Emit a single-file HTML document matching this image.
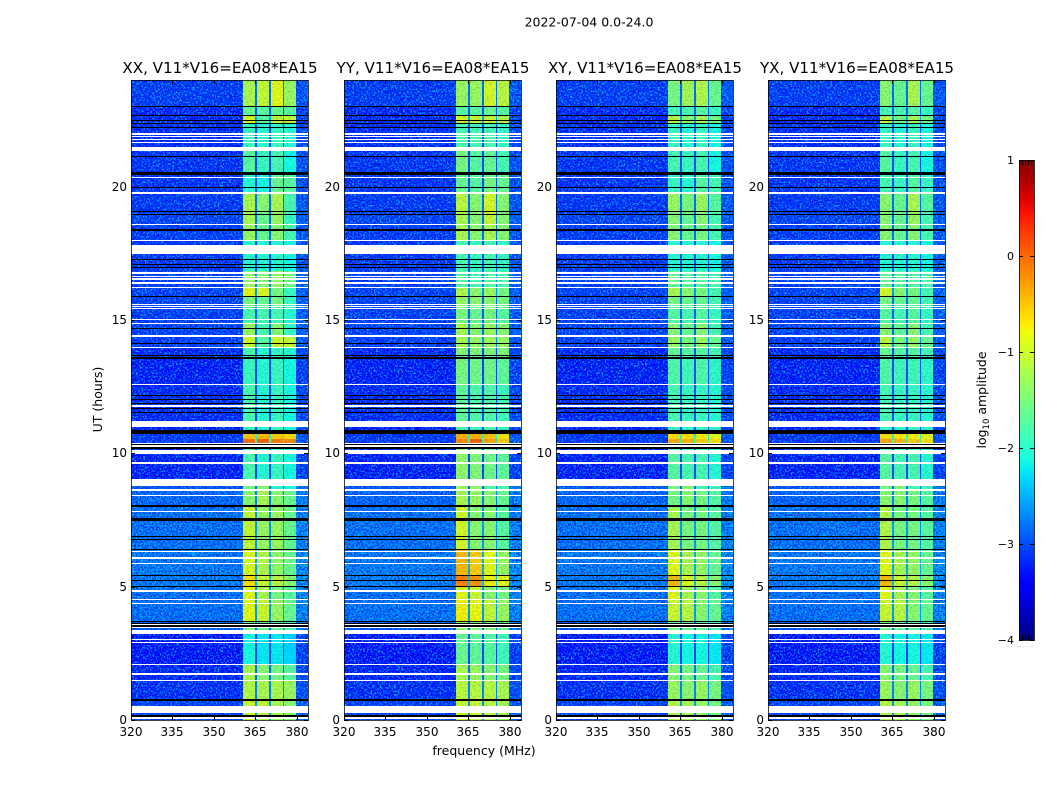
<!DOCTYPE html>
<html lang="en">
<head>
<meta charset="utf-8">
<title>2022-07-04 0.0-24.0</title>
<style>
html,body{margin:0;padding:0;background:#fff;width:1050px;height:800px;overflow:hidden}
svg{display:block}
text{font-family:"DejaVu Sans","Liberation Sans",sans-serif;fill:#000}
</style>
</head>
<body>
<svg id="chart" xmlns="http://www.w3.org/2000/svg" width="1050" height="800" viewBox="0 0 1050 800" shape-rendering="crispEdges">
  <defs>
    <filter id="speckle-light" x="0" y="0" width="100%" height="100%" color-interpolation-filters="sRGB">
      <feTurbulence type="fractalNoise" baseFrequency="0.55" numOctaves="2" seed="7"/>
      <feColorMatrix type="matrix" values="0 0 0 0 0.05  0 0 0 0 0.78  0 0 0 0 1  9 0 0 0 -4.6"/>
    </filter>
    <filter id="speckle-dark" x="0" y="0" width="100%" height="100%" color-interpolation-filters="sRGB">
      <feTurbulence type="fractalNoise" baseFrequency="0.55" numOctaves="2" seed="19"/>
      <feColorMatrix type="matrix" values="0 0 0 0 0  0 0 0 0 0.05  0 0 0 0 0.8  0 9 0 0 -4.4"/>
    </filter>
    <linearGradient id="jet-gradient" x1="0" y1="1" x2="0" y2="0"></linearGradient>
  </defs>
  <text x="589" y="26.5" font-size="12.5" text-anchor="middle">2022-07-04 0.0-24.0</text>
  <g id="panels"></g>
  <text transform="translate(102,399.5) rotate(-90)" font-size="12.5" text-anchor="middle">UT (hours)</text>
  <text x="484" y="755" font-size="12.5" text-anchor="middle">frequency (MHz)</text>
  <g id="colorbar"></g>
  <text transform="translate(986,400) rotate(-90)" font-size="12.5" text-anchor="middle">log<tspan font-size="8.5" dy="3">10</tspan><tspan dy="-3"> amplitude</tspan></text>
</svg>
<script>
// ---- data (hours, MHz, log10 amplitude) ----
const panelTitles = ["XX, V11*V16=EA08*EA15", "YY, V11*V16=EA08*EA15", "XY, V11*V16=EA08*EA15", "YX, V11*V16=EA08*EA15"];
const xTickLabels = [320, 335, 350, 365, 380];
const yTickLabels = [0, 5, 10, 15, 20];
const colorbarTicks = [-4, -3, -2, -1, 0, 1];
const freqEdges = [320, 360.5, 365, 365.7, 370, 370.5, 374.8, 375.4, 379.8, 384];
const rowEdges = [24, 23, 22.66, 22.38, 21.4, 20.48, 19.8, 19, 18.57, 17.97, 16.85, 16.21, 15.88, 15.5, 14.9, 14.38, 14, 13.6, 12.57, 11.1, 10.74, 10.55, 10.3, 9, 8.63, 8.02, 6.4, 5.41, 5, 4.5, 3.7, 3.3, 2.1, 1.5, 0.75, 0];
const bgLevels = [-3.12, -3.25, -3.25, -3.22, -3.18, -3.18, -3.15, -3.08, -3.12, -3.15, -3.1, -3.08, -3.08, -3.1, -3.08, -3.12, -3.25, -3.3, -3.25, -3.3, -3.15, -3.15, -3.3, -2.95, -2.85, -2.78, -2.72, -2.72, -2.78, -2.78, -2.95, -3.35, -3.28, -3.22, -3.1];
const rightLevels = [-2.95, -3.1, -3.1, -3.05, -3, -3, -2.95, -2.9, -2.95, -2.95, -2.9, -2.9, -2.9, -2.9, -2.9, -2.95, -3.05, -3.1, -3.05, -3.1, -2.95, -2.95, -3.1, -2.75, -2.7, -2.65, -2.6, -2.6, -2.65, -2.65, -2.75, -3.1, -3.05, -3, -2.9];
const gapLevels = [-2.8, -2.9, -2.5, -3, -3, -3, -2.8, -2.8, -2.8, -3, -2.7, -2.6, -2.8, -2.9, -2.8, -2.6, -3, -3, -3, -3, -2, -1.8, -3, -2.8, -2.7, -2.6, -2.5, -2.4, -2.6, -2.6, -2.8, -3, -2.8, -2.7, -2.6];
const bandsXX = [
  [-1.2,-1.05,-0.85,-1.3],[-1.6,-1.7,-1.6,-1.7],[-0.95,-1.7,-1.05,-1.05],[-1.9,-2,-1.9,-2],[-1.7,-1.9,-1.8,-2.1],
  [-2,-2.1,-1.6,-1.7],[-1.2,-1.4,-1.2,-1.8],[-1.2,-1.6,-1.3,-1.9],[-1.3,-1.6,-1.4,-1.8],[-2,-2,-2,-2.1],
  [-1.3,-1.4,-1.3,-1.6],[-0.85,-0.9,-1.5,-1.9],[-1.5,-1.6,-1.5,-1.9],[-1.8,-1.8,-1.8,-2],[-1.3,-1.8,-1.4,-1.9],
  [-1,-1.7,-1,-1.05],[-1.8,-2,-1.9,-2],[-1.9,-2,-1.9,-2.1],[-1.8,-2,-1.9,-2.1],[-1.9,-2,-1.9,-2.1],
  [-0.5,-0.45,-0.55,-0.65],[-0.05,0,-0.15,-0.2],[-1.8,-2,-1.9,-2.1],[-1.5,-1.4,-2,-2.1],[-1.4,-1.2,-1.4,-1.6],
  [-1.05,-1.3,-1.3,-1.6],[-0.9,-1.15,-1.35,-1.6],[-0.65,-1,-1.1,-1.4],[-0.85,-1.2,-1.5,-1.7],[-0.85,-1,-1.3,-1.6],
  [-1.5,-1.6,-1.6,-1.8],[-2.1,-2.2,-2.2,-2.3],[-1.2,-1.4,-1.5,-1.7],[-1.15,-1.2,-1.2,-1.3],[-1,-1.05,-1.2,-1.4]
];
const bandsYY = [
  [-1.3,-1.3,-0.95,-1.1],[-1.7,-1.7,-1.6,-1.7],[-0.95,-1,-1,-1.15],[-1.8,-1.8,-1.8,-1.9],[-1.5,-1.7,-1.6,-1.8],
  [-1.6,-1.7,-1.5,-1.6],[-1.1,-1.4,-0.95,-1.4],[-1.2,-1.4,-1.05,-1.4],[-1.2,-1.4,-1.2,-1.4],[-1.8,-1.9,-1.8,-1.9],
  [-1.7,-1.8,-1.7,-1.8],[-1.15,-1.4,-1.3,-1.5],[-1.3,-1.4,-1.4,-1.5],[-1.5,-1.6,-1.5,-1.7],[-1.2,-1.4,-1.3,-1.4],
  [-1.2,-1.3,-1.25,-1.3],[-1.4,-1.45,-1.45,-1.45],[-1.5,-1.55,-1.55,-1.65],[-1.65,-1.75,-1.75,-1.85],[-1.8,-1.9,-1.8,-1.9],
  [-0.4,-0.4,-0.5,-0.7],[-0.2,0,-0.35,-0.55],[-1.35,-1.45,-1.55,-1.65],[-1.3,-1.3,-1.7,-1.8],[-1.2,-1.3,-1.4,-1.6],
  [-0.95,-1.4,-1.4,-1.7],[-0.45,-0.55,-0.85,-1.3],[-0.15,-0.25,-0.75,-0.85],[-0.85,-1,-1.4,-1.5],[-0.75,-0.8,-1.05,-1.3],
  [-1.3,-1.4,-1.4,-1.6],[-1.6,-1.65,-1.7,-1.85],[-1.2,-1.3,-1.4,-1.5],[-1.1,-1.1,-1.1,-1.2],[-1,-1,-1.1,-1.2]
];
const bandsXY = [
  [-1.5,-1.25,-1.15,-1.6],[-1.8,-1.8,-1.7,-1.9],[-1.1,-1.4,-1.2,-1.5],[-1.9,-2,-1.9,-2.1],[-1.8,-1.9,-1.8,-2.1],
  [-1.9,-2,-1.7,-1.8],[-1.3,-1.5,-1.3,-1.7],[-1.4,-1.6,-1.4,-1.8],[-1.4,-1.6,-1.5,-1.8],[-2,-2,-2,-2.1],
  [-1.6,-1.7,-1.7,-1.8],[-1.2,-1.4,-1.5,-1.8],[-1.5,-1.6,-1.6,-1.8],[-1.7,-1.8,-1.7,-1.9],[-1.4,-1.6,-1.4,-1.8],
  [-1.3,-1.5,-1.3,-1.6],[-1.6,-1.7,-1.7,-1.8],[-1.75,-1.85,-1.75,-1.95],[-1.8,-1.9,-1.9,-2],[-1.9,-2,-1.9,-2],
  [-0.65,-0.65,-0.75,-0.85],[-0.4,-0.45,-0.55,-0.65],[-1.7,-1.8,-1.8,-2],[-1.5,-1.4,-1.8,-1.9],[-1.5,-1.4,-1.5,-1.7],
  [-1.2,-1.5,-1.5,-1.7],[-0.85,-1.2,-1.3,-1.6],[-0.45,-0.9,-1.1,-1.4],[-0.85,-1.2,-1.4,-1.7],[-1,-1.1,-1.4,-1.6],
  [-1.5,-1.6,-1.6,-1.8],[-2,-2.1,-2.1,-2.2],[-1.4,-1.5,-1.6,-1.8],[-1.3,-1.4,-1.3,-1.5],[-1.1,-1.2,-1.3,-1.5]
];
const bandsYX = [
  [-1.4,-1.6,-1.2,-1.6],[-1.8,-1.8,-1.7,-1.9],[-1.1,-1.5,-1.2,-1.5],[-1.9,-2,-1.9,-2.1],[-1.7,-1.9,-1.8,-2.1],
  [-1.8,-1.9,-1.7,-1.9],[-1.4,-1.6,-1.2,-1.7],[-1.4,-1.6,-1.3,-1.8],[-1.4,-1.6,-1.4,-1.8],[-2,-2,-2,-2.1],
  [-1.6,-1.7,-1.7,-1.8],[-0.95,-1.4,-1.5,-1.8],[-1.5,-1.6,-1.6,-1.8],[-1.7,-1.8,-1.7,-1.9],[-1.4,-1.6,-1.4,-1.8],
  [-1.1,-1.5,-1.3,-1.6],[-1.6,-1.7,-1.7,-1.8],[-1.75,-1.85,-1.85,-1.95],[-1.8,-1.9,-1.9,-2],[-1.9,-2,-1.9,-2],
  [-0.65,-0.7,-0.75,-0.85],[-0.35,-0.45,-0.55,-0.65],[-1.7,-1.8,-1.8,-2],[-1.5,-1.4,-1.8,-1.9],[-1.4,-1.4,-1.5,-1.7],
  [-1.15,-1.5,-1.5,-1.7],[-0.85,-1.2,-1.3,-1.6],[-0.45,-1,-1.1,-1.4],[-0.85,-1.2,-1.4,-1.7],[-1,-1.1,-1.4,-1.6],
  [-1.5,-1.6,-1.6,-1.8],[-2,-2.1,-2.1,-2.2],[-1.4,-1.5,-1.6,-1.8],[-1.3,-1.4,-1.3,-1.5],[-1.1,-1.2,-1.3,-1.5]
];
const panelBands = [bandsXX, bandsYY, bandsXY, bandsYX];
// flagged integrations: centre hours of thin rows
const whiteLines = [21.98, 21.88, 21.76, 21.66, 20.34, 19.76, 18.57, 17.97, 16.76, 16.64, 16.54, 16.39, 16.21, 15.58, 15.5, 15.44, 15.01, 14.88, 13.96, 12.57, 11.78, 10.37, 10.28, 9.64, 8.63, 8.42, 7.81, 6.33, 6.08, 5.87, 4.53, 4.38, 3.58, 3.48, 3.01, 2.91, 2.07, 1.73, 0.07];
const whiteBlocksHi = [21.48, 17.8, 14.42, 11.23, 10.14, 9.02, 4.87, 3.37, 1.51, 0.54];
const whiteBlocksLo = [21.32, 17.47, 14.35, 10.97, 9.97, 8.76, 4.79, 3.24, 1.45, 0.27];
const blackLines = [23, 22.66, 22.48, 22.38, 22.23, 21.13, 19.96, 19.07, 18.96, 18.38, 17.26, 17.08, 16.96, 15.88, 14.69, 14.11, 13.67, 13.58, 12.17, 12.03, 11.88, 11.67, 11.54, 10.32, 10.2, 8.02, 7.54, 7.47, 6.88, 6.78, 5.41, 5.23, 3.7, 3.63, 3.53];
const blackBlocksHi = [20.54, 10.89, 6.43, 5.04, 0.79, 0.17];
const blackBlocksLo = [20.42, 10.74, 6.37, 4.97, 0.72, 0.12];

// ---- layout ----
const NS = "http://www.w3.org/2000/svg";
const panelLefts = [131, 344, 556, 768];
const panelWidth = 177;
const plotTop = 80;
const plotBottom = 720;
const xScale = (left, mhz) => left + (mhz - 320) / 64 * panelWidth;
const yScale = hours => plotBottom - hours / 24 * (plotBottom - plotTop);
const cbLeft = 1019, cbWidth = 15, cbTop = 160, cbBottom = 640;
const cbScale = v => cbBottom - (v + 4) / 5 * (cbBottom - cbTop);

function clamp01(v) { return Math.max(0, Math.min(1, v)); }
function lerpStops(stops, t) {
  for (let i = 1; i < stops.length; i++) {
    if (t <= stops[i][0]) {
      const a = stops[i - 1], b = stops[i];
      return a[1] + (b[1] - a[1]) * (t - a[0]) / (b[0] - a[0]);
    }
  }
  return stops[stops.length - 1][1];
}
function jet(v) {
  const t = clamp01((v + 4) / 5);
  const r = lerpStops([[0,0],[0.35,0],[0.66,1],[0.89,1],[1,0.5]], t);
  const g = lerpStops([[0,0],[0.125,0],[0.375,1],[0.64,1],[0.91,0],[1,0]], t);
  const b = lerpStops([[0,0.5],[0.11,1],[0.34,1],[0.65,0],[1,0]], t);
  return "rgb(" + Math.round(r * 255) + "," + Math.round(g * 255) + "," + Math.round(b * 255) + ")";
}
function svgEl(tag, attrs, parent) {
  const el = document.createElementNS(NS, tag);
  for (const k in attrs) el.setAttribute(k, attrs[k]);
  parent.appendChild(el);
  return el;
}
function flagRect(group, left, hi, lo, colour) {
  const top = Math.round(yScale(hi));
  const h = Math.max(1, Math.round(yScale(lo)) - top);
  return svgEl("rect", {x: left, y: top, width: panelWidth, height: h, fill: colour}, group);
}
function noiseRect(group, x0, x1, filterId, opacity) {
  return svgEl("rect", {x: x0, y: plotTop, width: x1 - x0, height: plotBottom - plotTop, filter: "url(#" + filterId + ")", opacity: opacity}, group);
}

const panelsRoot = document.getElementById("panels");
panelTitles.forEach((title, p) => {
  const left = panelLefts[p];
  const bands = panelBands[p];
  const panel = svgEl("g", {}, panelsRoot);
  
  

  // heatmap cells
  for (let r = 0; r < rowEdges.length - 1; r++) {
    const top = Math.round(yScale(rowEdges[r]));
    const bottom = Math.round(yScale(rowEdges[r + 1]));
    const b = bands[r];
    const levels = [bgLevels[r], b[0], gapLevels[r], b[1], gapLevels[r], b[2], gapLevels[r], b[3], rightLevels[r]];
    for (let c = 0; c < levels.length; c++) {
      const x0 = Math.round(xScale(left, freqEdges[c]));
      const x1 = Math.round(xScale(left, freqEdges[c + 1]));
      const cell = svgEl("rect", {x: x0, y: top, width: x1 - x0, height: bottom - top, fill: jet(levels[c])}, panel);
      
      
    }
  }

  // receiver-noise texture: strong on the quiet spectrum, faint across the RFI bands
  const bandStart = Math.round(xScale(left, freqEdges[1]));
  const bandEnd = Math.round(xScale(left, freqEdges[8]));
  const noiseLightLeft = noiseRect(panel, left, bandStart, "speckle-light", 0.75);
  
  
  const noiseDarkLeft = noiseRect(panel, left, bandStart, "speckle-dark", 0.6);
  
  
  const noiseLightRight = noiseRect(panel, bandEnd, left + panelWidth, "speckle-light", 0.75);
  
  
  const noiseDarkRight = noiseRect(panel, bandEnd, left + panelWidth, "speckle-dark", 0.6);
  
  
  const noiseBand = noiseRect(panel, bandStart, bandEnd, "speckle-dark", 0.14);
  
  

  // flagged rows
  whiteLines.forEach(h => {
    const line = flagRect(panel, left, h + 0.025, h - 0.025, "#fff");
    
    
  });
  whiteBlocksHi.forEach((h, i) => {
    const block = flagRect(panel, left, h, whiteBlocksLo[i], "#fff");
    
    
  });
  blackLines.forEach(h => {
    const line = flagRect(panel, left, h + 0.025, h - 0.025, "#000");
    
    
  });
  blackBlocksHi.forEach((h, i) => {
    const block = flagRect(panel, left, h, blackBlocksLo[i], "#000");
    
    
  });

  // frame
  const frame = svgEl("rect", {x: left + 0.5, y: plotTop + 0.5, width: panelWidth, height: plotBottom - plotTop, fill: "none", stroke: "#000", "stroke-opacity": 0.75, "stroke-width": 1}, panel);
  
  

  // ticks and tick labels
  xTickLabels.forEach(v => {
    const x = Math.round(xScale(left, v));
    const t1 = svgEl("line", {x1: x + 0.5, x2: x + 0.5, y1: plotBottom, y2: plotBottom - 4, stroke: "#000"}, panel);
    
    
    const t2 = svgEl("line", {x1: x + 0.5, x2: x + 0.5, y1: plotTop, y2: plotTop + 4, stroke: "#000"}, panel);
    
    
    const lab = svgEl("text", {x: x, y: plotBottom + 16, "font-size": 12, "text-anchor": "middle"}, panel);
    lab.textContent = v;
    
    
  });
  yTickLabels.forEach(v => {
    const y = Math.round(yScale(v));
    const t1 = svgEl("line", {x1: left, x2: left + 4, y1: y + 0.5, y2: y + 0.5, stroke: "#000"}, panel);
    
    
    const t2 = svgEl("line", {x1: left + panelWidth, x2: left + panelWidth - 4, y1: y + 0.5, y2: y + 0.5, stroke: "#000"}, panel);
    
    
    const lab = svgEl("text", {x: left - 4, y: y + 4, "font-size": 12, "text-anchor": "end"}, panel);
    lab.textContent = v;
    
    
  });

  const ttl = svgEl("text", {x: left + panelWidth / 2 + 0.5, y: 73, "font-size": 15.1, "text-anchor": "middle"}, panel);
  ttl.textContent = title;
  
  
});

// ---- colorbar ----
const grad = document.getElementById("jet-gradient");
for (let i = 0; i <= 50; i++) {
  svgEl("stop", {offset: (i * 2) + "%", "stop-color": jet(-4 + i / 10)}, grad);
}
const cb = document.getElementById("colorbar");
const cbFill = svgEl("rect", {x: cbLeft, y: cbTop, width: cbWidth, height: cbBottom - cbTop, fill: "url(#jet-gradient)"}, cb);


const cbFrame = svgEl("rect", {x: cbLeft + 0.5, y: cbTop + 0.5, width: cbWidth, height: cbBottom - cbTop, fill: "none", stroke: "#000", "stroke-opacity": 0.8}, cb);


colorbarTicks.forEach(v => {
  const y = Math.round(cbScale(v));
  const t1 = svgEl("line", {x1: cbLeft, x2: cbLeft + 4, y1: y + 0.5, y2: y + 0.5, stroke: "#000"}, cb);
  
  
  const t2 = svgEl("line", {x1: cbLeft + cbWidth, x2: cbLeft + cbWidth - 4, y1: y + 0.5, y2: y + 0.5, stroke: "#000"}, cb);
  
  
  const lab = svgEl("text", {x: cbLeft - 5, y: y + 4, "font-size": 11, "text-anchor": "end"}, cb);
  lab.textContent = v < 0 ? "\u2212" + Math.abs(v) : String(v);
  
  
});
[3, 6, 9, 12].forEach(dx => {
  const t1 = svgEl("line", {x1: cbLeft + dx + 0.5, x2: cbLeft + dx + 0.5, y1: cbTop, y2: cbTop + 5, stroke: "#000"}, cb);
  
  
  const t2 = svgEl("line", {x1: cbLeft + dx + 0.5, x2: cbLeft + dx + 0.5, y1: cbBottom, y2: cbBottom - 5, stroke: "#000"}, cb);
  
  
});
const cbDots = svgEl("text", {x: 1017, y: 647, "font-size": 4, "letter-spacing": 1.6, fill: "#777"}, cb);
cbDots.textContent = "......";


</script>
</body>
</html>
